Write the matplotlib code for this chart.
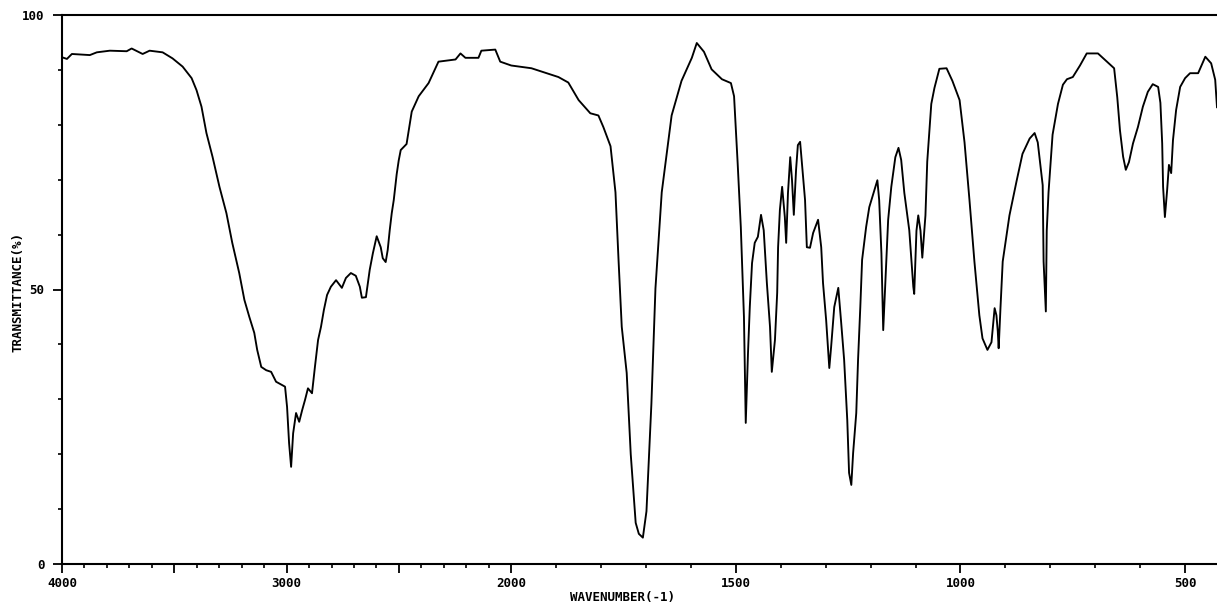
import numpy as np
import matplotlib
matplotlib.use("Agg")
import matplotlib.pyplot as plt
from matplotlib.ticker import FixedLocator, FixedFormatter

# ---- data (wavenumber in cm-1, transmittance in %) ----
wavenumber = [
    4000, 3978, 3956, 3876, 3845, 3787, 3712, 3690, 3641, 3610, 3552, 3508, 3463,
    3423, 3401, 3379, 3357, 3330, 3299, 3268, 3242, 3211, 3188, 3166, 3144, 3131,
    3113, 3091, 3069, 3047, 3020, 3007, 2998, 2989, 2980, 2971, 2958, 2944, 2931,
    2918, 2905, 2887, 2874, 2860, 2847, 2834, 2820, 2803, 2780, 2754, 2736, 2714,
    2692, 2674, 2665, 2647, 2630, 2616, 2599, 2581, 2572, 2559, 2550, 2541, 2532,
    2523, 2510, 2501, 2492, 2466, 2443, 2412, 2368, 2324, 2248, 2226, 2204, 2146,
    2133, 2071, 2049, 2000, 1955, 1895, 1873, 1850, 1824, 1806, 1795, 1779, 1768,
    1761, 1754, 1743, 1734, 1723, 1716, 1707, 1699, 1688, 1679, 1665, 1643, 1621,
    1598, 1587, 1571, 1554, 1531, 1511, 1504, 1496, 1489, 1482, 1478, 1473, 1469,
    1464, 1458, 1451, 1444, 1438, 1431, 1424, 1420, 1413, 1408, 1406, 1402, 1397,
    1391, 1388, 1384, 1379, 1375, 1371, 1366, 1362, 1357, 1353, 1346, 1342, 1335,
    1328, 1317, 1310, 1306, 1299, 1292, 1288, 1281, 1272, 1266, 1259, 1252, 1248,
    1243, 1239, 1232, 1228, 1223, 1219, 1210, 1203, 1196, 1185, 1181, 1176, 1172,
    1165, 1161, 1154, 1145, 1138, 1132, 1125, 1114, 1105, 1103, 1098, 1094, 1089,
    1085, 1078, 1074, 1065, 1058, 1047, 1031, 1018, 1002, 991, 980, 969, 958, 951,
    940, 931, 924, 920, 917, 915, 911, 906, 891, 875, 862, 846, 835, 828, 817, 815,
    810, 808, 804, 795, 783, 772, 763, 750, 734, 719, 694, 674, 658, 651, 645, 638,
    632, 625, 616, 605, 594, 583, 572, 560, 555, 551, 549, 545, 540, 536, 531, 527,
    520, 511, 500, 489, 471, 455, 442, 433, 429]
transmittance = [
    92.3, 92.0, 92.9, 92.7, 93.2, 93.5, 93.4, 93.9, 92.9, 93.5, 93.2, 92.1, 90.6,
    88.5, 86.3, 83.3, 78.5, 74.2, 68.7, 63.9, 58.5, 53.0, 48.1, 45.0, 42.1, 39.0,
    35.9, 35.3, 35.0, 33.2, 32.6, 32.3, 28.6, 22.0, 17.7, 23.8, 27.5, 25.9, 28.0,
    29.9, 32.0, 31.1, 35.9, 40.8, 43.2, 46.3, 49.0, 50.5, 51.7, 50.3, 52.1, 53.0,
    52.5, 50.5, 48.5, 48.6, 53.6, 56.6, 59.7, 57.7, 55.7, 55.0, 57.2, 60.8, 63.9,
    66.3, 71.0, 73.5, 75.4, 76.5, 82.4, 85.2, 87.6, 91.5, 91.9, 93.0, 92.2, 92.2,
    93.5, 93.7, 91.5, 90.8, 90.3, 88.7, 87.7, 84.5, 82.1, 81.7, 79.6, 76.1, 67.7,
    55.1, 43.2, 34.8, 20.0, 7.5, 5.5, 4.8, 9.6, 29.2, 50.2, 67.7, 81.7, 88.0,
    92.2, 94.9, 93.3, 90.1, 88.3, 87.6, 85.2, 73.0, 61.4, 45.0, 25.7, 38.4, 46.8,
    54.8, 58.5, 59.6, 63.6, 60.8, 51.2, 43.2, 35.0, 40.8, 49.4, 57.7, 64.5, 68.7,
    63.2, 58.5, 67.6, 74.1, 69.9, 63.6, 71.8, 76.3, 76.9, 73.0, 66.3, 57.7, 57.6,
    60.3, 62.7, 57.7, 51.2, 44.4, 35.7, 39.5, 46.8, 50.3, 44.4, 37.2, 26.2, 16.6,
    14.4, 20.2, 27.5, 37.2, 46.8, 55.4, 61.4, 65.0, 66.9, 69.9, 66.3, 56.6, 42.6,
    55.4, 62.7, 68.7, 74.1, 75.8, 73.6, 67.6, 60.8, 50.5, 49.2, 60.7, 63.5, 60.7,
    55.8, 63.5, 73.3, 83.8, 86.7, 90.2, 90.3, 88.0, 84.5, 76.8, 66.3, 55.1, 45.3, 41.1,
    39.0, 40.4, 46.6, 45.3, 42.4, 39.3, 46.6, 55.1, 63.5, 69.8, 74.7, 77.5, 78.5, 76.8, 69.0, 55.1,
    46.0, 60.7, 67.7, 78.2, 83.8, 87.3, 88.3, 88.7, 90.8, 93.0, 93.0, 91.5, 90.3, 85.0,
    79.0, 74.2, 71.8, 73.2, 76.6, 79.6, 83.3, 86.0, 87.4, 86.9, 84.0, 76.6, 68.7, 63.2,
    68.1, 72.7, 71.2, 77.2, 82.7, 86.9, 88.5, 89.4, 89.4, 92.4, 91.2, 88.2, 83.2]

major_ticks = [4000, 3500, 3000, 2500, 2000, 1500, 1000, 500]
major_labels = ["4000", "", "3000", "", "2000", "1500", "1000", "500"]
minor_ticks = [w for w in range(3900, 450, -100) if w not in major_ticks]
y_major = [0, 50, 100]
y_labels = ["0", "50", "100"]
y_minor = [10, 20, 30, 40, 60, 70, 80, 90]

# Piece-wise IR abscissa: 1000 cm-1 per division above 2000, 500 below.
def forward(w):
    w = np.asarray(w, dtype=float)
    return np.where(w >= 2000, (w - 2000) / 1000.0, (w - 2000) / 500.0)

def inverse(u):
    u = np.asarray(u, dtype=float)
    return np.where(u >= 0, 2000 + 1000.0 * u, 2000 + 500.0 * u)

W, H = 1217, 603
fig = plt.figure(figsize=(W / 100, H / 100), dpi=100)
ax = fig.add_axes([62 / W, 1 - 564 / H, (W - 62) / W, (564 - 15) / H])
ax.set_xscale("function", functions=(forward, inverse))

ax.plot(wavenumber, transmittance, color="black", linewidth=1.35)

ax.set_xlim(4000, 429)
ax.set_ylim(0, 100)

font = dict(family="DejaVu Sans Mono", weight="bold", size=9)

ax.xaxis.set_major_locator(FixedLocator(major_ticks))
ax.xaxis.set_major_formatter(FixedFormatter(major_labels))
ax.xaxis.set_minor_locator(FixedLocator(minor_ticks))
ax.yaxis.set_major_locator(FixedLocator(y_major))
ax.yaxis.set_major_formatter(FixedFormatter(y_labels))
ax.yaxis.set_minor_locator(FixedLocator(y_minor))

ax.tick_params(axis="both", which="major", direction="out", length=6.5,
               width=1.3, color="black")
ax.tick_params(axis="both", which="minor", direction="out", length=3,
               width=1.2, color="black")
ax.tick_params(axis="x", which="major", pad=3)
ax.tick_params(axis="y", which="major", pad=6)
for lab in ax.get_xticklabels() + ax.get_yticklabels():
    lab.set_fontfamily(font["family"])
    lab.set_fontweight(font["weight"])
    lab.set_fontsize(font["size"])

for side in ("left", "bottom", "top"):
    ax.spines[side].set_linewidth(1.5)
    ax.spines[side].set_color("black")
ax.spines["right"].set_visible(False)

ax.set_xlabel("WAVENUMBER(-1)", **font)
ax.set_ylabel("TRANSMITTANCE(%)", **font)
ax.xaxis.set_label_coords((623 - 62) / (W - 62), -(597 - 564) / (564 - 15))
ax.yaxis.set_label_coords(-(62 - 18) / (W - 62), (564 - 292) / (564 - 15))
ax.xaxis.label.set_verticalalignment("center")
ax.yaxis.label.set_verticalalignment("center")

fig.savefig("out.png", dpi=100)
